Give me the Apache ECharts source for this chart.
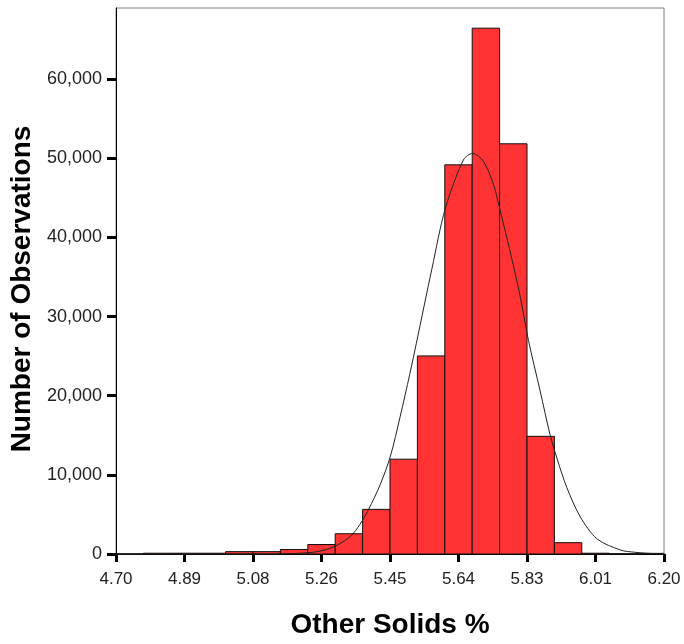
<!DOCTYPE html>
<html>
<head>
<meta charset="utf-8">
<script src="https://cdn.jsdelivr.net/npm/echarts@6/dist/echarts.min.js"></script>
<style>html,body{margin:0;padding:0;background:#fff}#c{width:684px;height:644px}</style>
</head>
<body>
<div id="c"></div>
<script>
// Histogram bin edges (20 bins of width 0.075 from 4.70 to 6.20)
const binEdges = [4.700, 4.775, 4.850, 4.925, 5.000, 5.075, 5.150, 5.225, 5.300, 5.375,
                  5.450, 5.525, 5.600, 5.675, 5.750, 5.825, 5.900, 5.975, 6.050, 6.125, 6.200];
// Observation counts per bin
const counts = [0, 100, 100, 100, 300, 300, 570, 1200, 2560, 5640,
                11980, 25030, 49180, 66450, 51840, 14870, 1430, 100, 30, 80];
// Normal curve overlay
const curveX = [4.70, 4.90, 5.00, 5.10, 5.15, 5.20, 5.25, 5.295, 5.341, 5.368, 5.391, 5.423, 5.451,
                5.478, 5.504, 5.522, 5.565, 5.601, 5.651, 5.676, 5.706, 5.734, 5.749, 5.779, 5.807,
                5.829, 5.861, 5.888, 5.907, 5.934, 5.971, 6.017, 6.081, 6.12, 6.154, 6.20];
const curveY = [0, 0, 2, 8, 25, 90, 290, 880, 2200, 3760, 5600, 8750, 12350,
                17400, 22700, 26600, 36100, 43600, 49800, 50630, 49600, 46600, 43900, 38200, 32400,
                27000, 20600, 15100, 12100, 8400, 4680, 1900, 500, 220, 90, 30];
// Tick positions and labels
const yTicks = [0, 10000, 20000, 30000, 40000, 50000, 60000];
const xTicks = [4.70, 4.8875, 5.075, 5.2625, 5.45, 5.6375, 5.825, 6.0125, 6.20];
const xTickLabels = ['4.70', '4.89', '5.08', '5.26', '5.45', '5.64', '5.83', '6.01', '6.20'];

const barData = counts.map((c, i) => [binEdges[i], binEdges[i + 1], c]);
const curveData = curveX.map((x, i) => [x, curveY[i]]);

const chart = echarts.init(document.getElementById('c'), null, {renderer: 'canvas'});
const labelFont = {fontFamily: 'Liberation Sans', fontSize: 17, color: '#222'};
chart.setOption({
  backgroundColor: '#fff',
  animation: false,
  grid: {left: 116, right: 20, top: 8, bottom: 90, show: true, borderColor: '#808080', borderWidth: 1,
         backgroundColor: 'transparent', outerBoundsMode: 'none'},
  xAxis: {
    type: 'value', min: 4.70, max: 6.20,
    name: 'Other Solids %', nameLocation: 'middle', nameGap: 57,
    nameTextStyle: {fontFamily: 'Liberation Sans', fontSize: 28, fontWeight: 'bold', color: '#000'},
    axisLine: {show: true, onZero: false, lineStyle: {color: '#000', width: 1}},
    axisTick: {show: true, customValues: xTicks, length: 8, lineStyle: {color: '#000', width: 3}},
    axisLabel: Object.assign({customValues: xTicks, margin: 17,
      formatter: v => { const i = xTicks.findIndex(t => Math.abs(t - v) < 1e-6); return i >= 0 ? xTickLabels[i] : ''; }}, labelFont),
    splitLine: {show: false}
  },
  yAxis: {
    type: 'value', min: 0, max: 69000,
    name: 'Number of Observations', nameLocation: 'middle', nameGap: 76,
    nameTextStyle: {fontFamily: 'Liberation Sans', fontSize: 28, fontWeight: 'bold', color: '#000',
                    padding: [0, 16, 0, 0]},
    axisLine: {show: true, lineStyle: {color: '#000', width: 1}},
    axisTick: {show: true, customValues: yTicks, length: 9, lineStyle: {color: '#000', width: 3}},
    axisLabel: Object.assign({customValues: yTicks, margin: 14,
      formatter: v => v.toLocaleString('en-US')}, labelFont, {fontSize: 18}),
    splitLine: {show: false}
  },
  series: [
    {
      type: 'custom',
      data: barData,
      encode: {x: [0, 1], y: 2},
      renderItem: function (params, api) {
        const p0 = api.coord([api.value(0), api.value(2)]);
        const p1 = api.coord([api.value(1), 0]);
        return {
          type: 'rect',
          shape: {x: p0[0], y: p0[1], width: p1[0] - p0[0], height: p1[1] - p0[1]},
          style: {fill: '#ff3333', stroke: '#111', lineWidth: 1}
        };
      },
      z: 2
    },
    {
      type: 'line',
      data: curveData,
      smooth: 0.3,
      showSymbol: false,
      lineStyle: {color: '#222', width: 1},
      z: 3
    }
  ]
});
</script>
</body>
</html>
